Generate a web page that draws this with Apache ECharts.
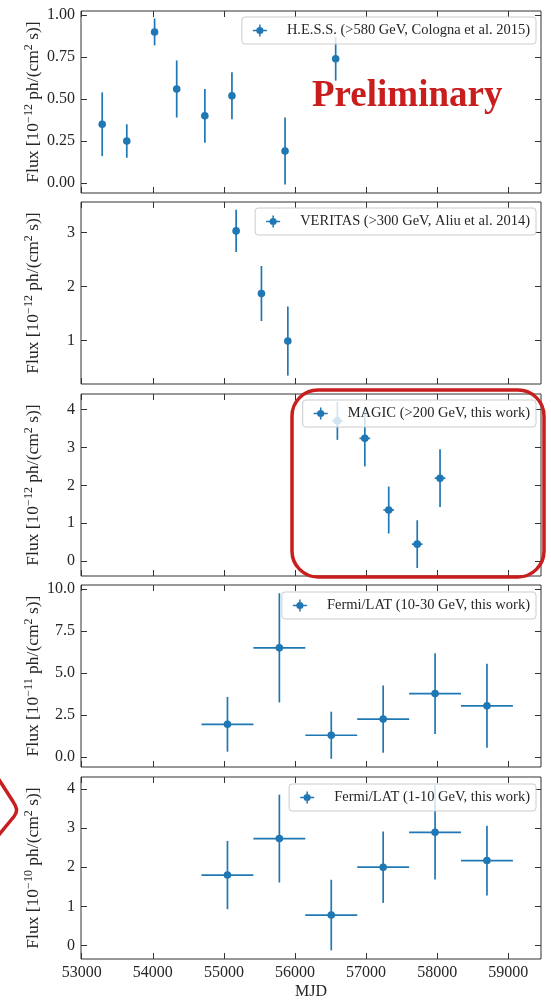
<!DOCTYPE html>
<html>
<head>
<meta charset="utf-8">
<script src="https://cdn.jsdelivr.net/npm/echarts@6/dist/echarts.min.js"></script>
<style>
  html, body { margin: 0; padding: 0; background: #ffffff; }
  #chart { width: 551px; height: 1002px; }
</style>
</head>
<body>
<div id="chart"></div>
<script>
// ---- data -------------------------------------------------------------
const mjdTicks = [53000, 54000, 55000, 56000, 57000, 58000, 59000];

// H.E.S.S. (>580 GeV)
const hessMjd  = [53288, 53634, 54025, 54336, 54732, 55113, 55860, 56572];
const hessFlux = [0.35, 0.25, 0.90, 0.56, 0.40, 0.52, 0.19, 0.74];
const hessErr  = [0.19, 0.10, 0.08, 0.17, 0.16, 0.14, 0.20, 0.13];

// VERITAS (>300 GeV)
const veritasMjd  = [55172, 55528, 55899];
const veritasFlux = [3.03, 1.87, 0.99];
const veritasErr  = [0.39, 0.51, 0.64];

// MAGIC (>200 GeV)
const magicMjd    = [56596, 56982, 57318, 57719, 58040];
const magicMjdErr = [75, 75, 75, 75, 75];
const magicFlux   = [3.70, 3.24, 1.35, 0.45, 2.19];
const magicErr    = [0.50, 0.74, 0.62, 0.63, 0.76];

// Fermi/LAT two-year bins
const fermiBinMjd  = [55050, 55780, 56510, 57240, 57970, 58700];
const fermiBinHalf = [365, 365, 365, 365, 365, 365];
const fermiHighFlux = [1.95, 6.50, 1.30, 2.26, 3.78, 3.05];   // 10-30 GeV
const fermiHighErr  = [1.63, 3.25, 1.40, 2.00, 2.40, 2.50];
const fermiLowFlux  = [1.80, 2.73, 0.78, 2.00, 2.89, 2.17];   // 1-10 GeV
const fermiLowErr   = [0.87, 1.12, 0.90, 0.91, 1.20, 0.89];

// y tick values per panel
const hessTicks    = [0, 0.25, 0.5, 0.75, 1.0];
const veritasTicks = [1, 2, 3];
const magicTicks   = [0, 1, 2, 3, 4];
const fermiHighTicks = [0, 2.5, 5, 7.5, 10];
const fermiLowTicks  = [0, 1, 2, 3, 4];

// ---- layout / style ---------------------------------------------------
const BLUE = '#1f77b4';
const RED = '#c81e1e';
const INK = '#262626';
const FRAME = '#333333';
const SERIF = '"Liberation Serif", "DejaVu Serif", serif';

function rows(xs, xe, ys, ye) {
  return xs.map((x, i) => [x, ys[i], xe ? xe[i] : 0, ye[i]]);
}

const panels = [
  { name: 'H.E.S.S. (>580 GeV, Cologna et al. 2015)', data: rows(hessMjd, null, hessFlux, hessErr),
    ymin: -0.06, ymax: 1.025, ticks: hessTicks, dec: 2, exp: '−12', top: 11, legendTop: 17 },
  { name: 'VERITAS (>300 GeV, Aliu et al. 2014)', data: rows(veritasMjd, null, veritasFlux, veritasErr),
    ymin: 0.195, ymax: 3.565, ticks: veritasTicks, dec: 0, exp: '−12', top: 202, legendTop: 208 },
  { name: 'MAGIC (>200 GeV, this work)', data: rows(magicMjd, magicMjdErr, magicFlux, magicErr),
    ymin: -0.39, ymax: 4.41, ticks: magicTicks, dec: 0, exp: '−12', top: 394, legendTop: 400 },
  { name: 'Fermi/LAT (10-30 GeV, this work)', data: rows(fermiBinMjd, fermiBinHalf, fermiHighFlux, fermiHighErr),
    ymin: -0.59, ymax: 10.24, ticks: fermiHighTicks, dec: 1, exp: '−11', top: 585, legendTop: 592 },
  { name: 'Fermi/LAT (1-10 GeV, this work)', data: rows(fermiBinMjd, fermiBinHalf, fermiLowFlux, fermiLowErr),
    ymin: -0.34, ymax: 4.30, ticks: fermiLowTicks, dec: 0, exp: '−10', top: 777, legendTop: 784 }
];

const X_MIN = 52990, X_MAX = 59460;
const GRID_LEFT = 81, GRID_WIDTH = 460, GRID_HEIGHT = 182;

// errorbar marker icon: horizontal + vertical bar with a dot
const ERR_ICON = 'path://M0,5.25H14V6.75H0Z M6.25,0H7.75V12H6.25Z M10.6,6A3.6,3.6,0,1,1,3.4,6A3.6,3.6,0,1,1,10.6,6Z';

function renderErrorbar(params, api) {
  const x = api.value(0), y = api.value(1), xe = api.value(2), ye = api.value(3);
  const c = api.coord([x, y]);
  const hi = api.coord([x, y + ye]);
  const lo = api.coord([x, y - ye]);
  const stroke = { stroke: BLUE, lineWidth: 1.7 };
  const children = [
    { type: 'line', shape: { x1: c[0], y1: hi[1], x2: c[0], y2: lo[1] }, style: stroke }
  ];
  if (xe > 0) {
    const l = api.coord([x - xe, y]);
    const r = api.coord([x + xe, y]);
    children.push({ type: 'line', shape: { x1: l[0], y1: c[1], x2: r[0], y2: c[1] }, style: stroke });
  }
  children.push({ type: 'circle', shape: { cx: c[0], cy: c[1], r: 3.8 }, style: { fill: BLUE } });
  return { type: 'group', children };
}

const grids = [], xAxes = [], yAxes = [], series = [], legends = [];

panels.forEach((p, i) => {
  const last = i === panels.length - 1;
  grids.push({
    left: GRID_LEFT, width: GRID_WIDTH, top: p.top, height: GRID_HEIGHT,
    show: true, borderColor: FRAME, borderWidth: 1, backgroundColor: 'transparent'
  });
  const tickStyle = { show: true, inside: true, length: 6, lineStyle: { color: FRAME, width: 1 } };
  const noLine = { show: false, onZero: false };
  // bottom x axis
  xAxes.push({
    type: 'value', gridIndex: i, min: X_MIN, max: X_MAX, position: 'bottom',
    axisLine: noLine, splitLine: { show: false },
    axisTick: Object.assign({ customValues: mjdTicks }, tickStyle),
    axisLabel: { show: last, customValues: mjdTicks, margin: 6, color: INK,
                 fontFamily: SERIF, fontSize: 16, formatter: v => String(v) },
    name: last ? 'MJD' : '', nameLocation: 'middle', nameGap: 25, nameMoveOverlap: false,
    nameTextStyle: { color: INK, fontFamily: SERIF, fontSize: 16 }
  });
  // top x axis (ticks only)
  xAxes.push({
    type: 'value', gridIndex: i, min: X_MIN, max: X_MAX, position: 'top',
    axisLine: noLine, splitLine: { show: false },
    axisTick: Object.assign({ customValues: mjdTicks }, tickStyle),
    axisLabel: { show: false }
  });
  // left y axis
  yAxes.push({
    type: 'value', gridIndex: i, min: p.ymin, max: p.ymax, position: 'left',
    axisLine: noLine, splitLine: { show: false },
    axisTick: Object.assign({ customValues: p.ticks }, tickStyle),
    axisLabel: { customValues: p.ticks, margin: 6, color: INK, fontFamily: SERIF, fontSize: 16,
                 formatter: v => Number(v).toFixed(p.dec) },
    name: '{n|Flux [10}{s|' + p.exp + '}{n| ph/(cm}{s|2}{n| s)]}',
    nameLocation: 'middle', nameRotate: 90, nameGap: 38, nameMoveOverlap: false,
    nameTextStyle: {
      rich: {
        n: { fontFamily: SERIF, fontSize: 17.5, color: INK, lineHeight: 20 },
        s: { fontFamily: SERIF, fontSize: 12, color: INK, lineHeight: 12, verticalAlign: 'top' }
      }
    }
  });
  // right y axis (ticks only)
  yAxes.push({
    type: 'value', gridIndex: i, min: p.ymin, max: p.ymax, position: 'right',
    axisLine: noLine, splitLine: { show: false },
    axisTick: Object.assign({ customValues: p.ticks }, tickStyle),
    axisLabel: { show: false }
  });
  series.push({
    type: 'custom', name: p.name, xAxisIndex: 2 * i, yAxisIndex: 2 * i,
    data: p.data, encode: { x: 0, y: 1 }, renderItem: renderErrorbar,
    itemStyle: { color: BLUE }, z: 2, silent: true
  });
  legends.push({
    data: [{ name: p.name, icon: ERR_ICON }],
    right: 15, top: p.legendTop, orient: 'horizontal',
    itemWidth: 14, itemHeight: 12,
    padding: [6, 6, 6, 11],
    backgroundColor: 'rgba(255,255,255,0.8)', borderColor: '#cccccc', borderWidth: 1, borderRadius: 3,
    selectedMode: false, z: 5,
    textStyle: { color: INK, fontFamily: SERIF, fontSize: 14.5, padding: [0, 0, 0, 15] }
  });
});

const chart = echarts.init(document.getElementById('chart'), null, { renderer: 'canvas' });
chart.setOption({
  animation: false,
  backgroundColor: '#ffffff',
  grid: grids,
  xAxis: xAxes,
  yAxis: yAxes,
  legend: legends,
  series: series,
  graphic: [
    { type: 'text', left: 312, top: 78, z: 10,
      style: { text: 'Preliminary', fill: RED, fontFamily: SERIF, fontSize: 37, fontWeight: 'bold' } },
    { type: 'rect', z: 10, silent: true,
      shape: { x: 292, y: 390, width: 252, height: 187, r: 26 },
      style: { fill: 'none', stroke: RED, lineWidth: 3.5 } },
    { type: 'polyline', z: 10, silent: true,
      shape: { points: [[-2, 778], [13, 801.5], [15.5, 806], [16.6, 809.5], [16, 813], [14, 816.5], [-2, 836]] },
      style: { fill: 'none', stroke: RED, lineWidth: 3.5, lineJoin: 'round' } }
  ]
});
</script>
</body>
</html>
